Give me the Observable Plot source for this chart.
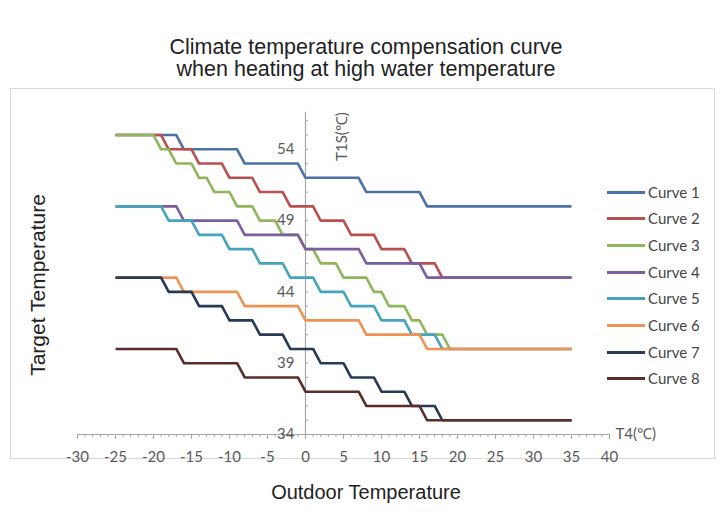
<!DOCTYPE html>
<html>
<head>
<meta charset="utf-8">
<script src="https://cdn.jsdelivr.net/npm/d3@7"></script>
<script src="https://cdn.jsdelivr.net/npm/@observablehq/plot@0.6"></script>
<style>
  body { margin: 0; background: #fff; }
  #wrap { position: relative; width: 726px; height: 515px; overflow: hidden; font-family: "Liberation Sans", Arial, sans-serif; color: #222; }
  #title { position: absolute; left: 0; top: 36px; width: 732px; text-align: center; font-size: 21.5px; line-height: 22px; }
  #box { position: absolute; left: 10px; top: 88px; width: 703px; height: 369px; border: 1px solid #d9d9d9; }
  #chart { position: absolute; left: 0; top: 0; }
  #ytitle { position: absolute; left: 38px; top: 285px; transform: translate(-50%, -50%) rotate(-90deg); font-size: 21px; white-space: nowrap; }
  #xtitle { position: absolute; left: 0; width: 732px; top: 481px; text-align: center; font-size: 20px; }
  .lg { position: absolute; height: 20px; }
  .lg .sw { position: absolute; left: 0; top: 9px; width: 38px; height: 3px; }
  .lg .tx { position: absolute; left: 41px; top: 0; font-family: Lato, "Open Sans", sans-serif; font-size: 15px; line-height: 20px; color: #444; white-space: nowrap; }
</style>
</head>
<body>
<div id="wrap">
  <div id="box"></div>
  <div id="title">Climate temperature compensation curve<br>when heating at high water temperature</div>
  <div id="chart"></div>
  <div id="ytitle">Target Temperature</div>
  <div id="xtitle">Outdoor Temperature</div>
</div>
<script>
// ---- data (breakpoints of each curve) ----
const seriesNames = ["Curve 1", "Curve 2", "Curve 3", "Curve 4", "Curve 5", "Curve 6", "Curve 7", "Curve 8"];
const seriesColors = ["#4a72a6", "#b9504f", "#8fb65a", "#7b5e9c", "#46a3bd", "#ee9355", "#263a54", "#5a2d2a"];

const curve1T4  = [-25, -17, -16, -9, -8, -1, 0, 7, 8, 15, 16, 35];
const curve1T1S = [55, 55, 54, 54, 53, 53, 52, 52, 51, 51, 50, 50];

const curve2T4  = [-25, -19, -18, -15, -14, -11, -10, -7, -6, -3, -2, 1, 2, 5, 6, 9, 10, 13, 14, 17, 18, 35];
const curve2T1S = [55, 55, 54, 54, 53, 53, 52, 52, 51, 51, 50, 50, 49, 49, 48, 48, 47, 47, 46, 46, 45, 45];

const curve3T4  = [-25, -20, -19, -18, -17, -15, -14, -13, -12, -10, -9, -7, -6, -4, -3, -1, 0, 1, 2, 4, 5, 8, 9, 10, 11, 13, 14, 15, 16, 18, 19, 35];
const curve3T1S = [55, 55, 54, 54, 53, 53, 52, 52, 51, 51, 50, 50, 49, 49, 48, 48, 47, 47, 46, 46, 45, 45, 44, 44, 43, 43, 42, 42, 41, 41, 40, 40];

const curve4T4  = [-25, -17, -16, -9, -8, -1, 0, 7, 8, 15, 16, 35];
const curve4T1S = [50, 50, 49, 49, 48, 48, 47, 47, 46, 46, 45, 45];

const curve5T4  = [-25, -19, -18, -15, -14, -11, -10, -7, -6, -3, -2, 1, 2, 5, 6, 9, 10, 13, 14, 17, 18, 35];
const curve5T1S = [50, 50, 49, 49, 48, 48, 47, 47, 46, 46, 45, 45, 44, 44, 43, 43, 42, 42, 41, 41, 40, 40];

const curve6T4  = [-25, -17, -16, -9, -8, -1, 0, 7, 8, 15, 16, 35];
const curve6T1S = [45, 45, 44, 44, 43, 43, 42, 42, 41, 41, 40, 40];

const curve7T4  = [-25, -19, -18, -15, -14, -11, -10, -7, -6, -3, -2, 1, 2, 5, 6, 9, 10, 13, 14, 17, 18, 35];
const curve7T1S = [45, 45, 44, 44, 43, 43, 42, 42, 41, 41, 40, 40, 39, 39, 38, 38, 37, 37, 36, 36, 35, 35];

const curve8T4  = [-25, -17, -16, -9, -8, -1, 0, 7, 8, 15, 16, 35];
const curve8T1S = [40, 40, 39, 39, 38, 38, 37, 37, 36, 36, 35, 35];

const xTickLabels = [-30, -25, -20, -15, -10, -5, 0, 5, 10, 15, 20, 25, 30, 35, 40];
const yTickLabels = [34, 39, 44, 49, 54];
const xAxisTitle = "T4(℃)";
const yAxisTitle = "T1S(℃)";

// ---- build table ----
const curvesT4 = [curve1T4, curve2T4, curve3T4, curve4T4, curve5T4, curve6T4, curve7T4, curve8T4];
const curvesT1S = [curve1T1S, curve2T1S, curve3T1S, curve4T1S, curve5T1S, curve6T1S, curve7T1S, curve8T1S];
const rows = [];
seriesNames.forEach((name, i) => {
  curvesT4[i].forEach((t4, j) => rows.push({series: name, t4, t1s: curvesT1S[i][j]}));
});

const axisColor = "#a6a6a6";
const chart = Plot.plot({
  width: 726,
  height: 515,
  marginLeft: 77,
  marginRight: 117,
  marginTop: 106,
  marginBottom: 81,
  x: {domain: [-30, 40]},
  y: {domain: [34, 57], axis: null},
  color: {domain: seriesNames, range: seriesColors},
  style: {background: "transparent", fontFamily: "Lato, 'Open Sans', sans-serif", fontSize: "15px", color: "#595959", overflow: "visible"},
  marks: [
    Plot.ruleY([34], {x1: -30, x2: 40, stroke: axisColor, strokeWidth: 1}),
    Plot.axisX({ticks: d3.range(-30, 41, 1), tickSize: 3, tickFormat: () => "", stroke: axisColor, label: null}),
    Plot.axisX({ticks: xTickLabels, tickSize: 5, tickPadding: 12, stroke: axisColor, fill: "#595959", label: null, tickFormat: d => String(d).replace("−", "-")}),
    Plot.ruleX([0], {y1: 34, y2: 56.6, stroke: axisColor, strokeWidth: 1.2}),
    Plot.ruleY(d3.range(35, 57, 1), {x1: 0, x2: 0.42, stroke: axisColor}),
    Plot.line(rows, {x: "t4", y: "t1s", z: "series", stroke: "series", strokeWidth: 2.6, strokeLinejoin: "round", strokeLinecap: "butt"}),
    Plot.text(yTickLabels, {x: 0, y: d => d, dx: -11, textAnchor: "end", fill: "#595959", fontSize: 15}),
    Plot.text([yAxisTitle], {x: 0, y: 56.6, dx: 37, rotate: -90, textAnchor: "end", fill: "#595959", fontSize: 15}),
    Plot.text([xAxisTitle], {x: 40, y: 34, dx: 6, textAnchor: "start", fill: "#595959", fontSize: 15})
  ]
});
document.getElementById("chart").appendChild(chart);

// legend
const wrap = document.getElementById("wrap");
seriesNames.forEach((name, i) => {
  const d = document.createElement("div");
  d.className = "lg";
  d.style.left = "607px";
  d.style.top = (181.7 + i * 26.66) + "px";
  d.innerHTML = `<div class="sw" style="background:${seriesColors[i]}"></div><div class="tx">${name}</div>`;
  wrap.appendChild(d);
});
</script>
</body>
</html>
